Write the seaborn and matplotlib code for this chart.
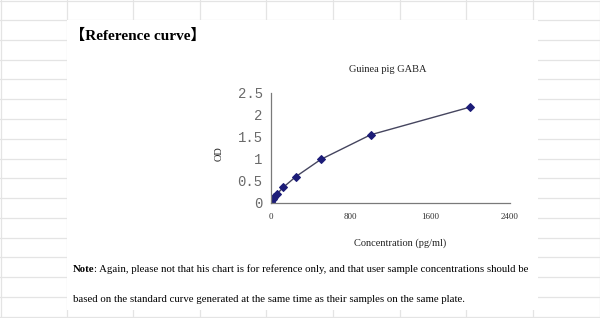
import matplotlib
matplotlib.use("Agg")
import matplotlib.pyplot as plt
from matplotlib.patches import Rectangle
import seaborn as sns
import pandas as pd

# ---- data ----
concentration = [0, 15.6, 31.25, 62.5, 125, 250, 500, 1000, 2000]
od_values = [0.02, 0.08, 0.14, 0.21, 0.36, 0.60, 0.99, 1.55, 2.18]
x_ticks = [0, 800, 1600, 2400]
x_tick_labels = ["0", "800", "1600", "2400"]
y_ticks = [0, 0.5, 1, 1.5, 2, 2.5]
y_tick_labels = ["0", "0.5", "1", "1.5", "2", "2.5"]
chart_title = "Guinea pig GABA"
x_label = "Concentration (pg/ml)"
y_label = "OD"
heading = "【Reference curve】"
note_bold = "Note"
note_line1 = ": Again, please not that his chart is for reference only, and that user sample concentrations should be"
note_line2 = "based on the standard curve generated at the same time as their samples on the same plate."

sns.set_theme(style="white")
plt.rcParams["font.family"] = ["Liberation Serif", "Noto Sans CJK SC", "DejaVu Sans"]

W, H = 600, 318
fig = plt.figure(figsize=(6, 3.18), dpi=100)
fig.patch.set_facecolor("white")

# ---- spreadsheet background ----
bg = fig.add_axes([0, 0, 1, 1])
bg.set_xlim(0, W)
bg.set_ylim(H, 0)
bg.axis("off")
grid_c = "#e4e4e4"
rows = [0.5] + [20 + 19.79 * k for k in range(16)]
cols = [0.5] + [66.6 * k for k in range(1, 9)] + [599.5]
for yy in rows:
    bg.plot([0, W], [yy, yy], color=grid_c, lw=0.9, zorder=1)
for xx in cols:
    bg.plot([xx, xx], [0, H], color=grid_c, lw=0.9, zorder=1)
bg.add_patch(Rectangle((67, 20), 538 - 67, 310 - 20, facecolor="white", edgecolor="none", zorder=2))

def px(x, y):
    return x / W, 1 - y / H

# ---- chart ----
left, right, top, bottom = 271, 510, 93, 203
ax = fig.add_axes([left / W, 1 - bottom / H, (right - left) / W, (bottom - top) / H])
ax.set_facecolor("none")
df = pd.DataFrame({"conc": concentration, "od": od_values})
sns.lineplot(data=df, x="conc", y="od", ax=ax, color="#45455f", lw=1.0,
             marker="D", markersize=4.2, markerfacecolor="#1c1c78",
             markeredgecolor="#1c1c78", estimator=None, sort=False)
ax.set_xlim(0, 2400)
ax.set_ylim(0, 2.5)
ax.set_xticks(x_ticks)
ax.set_xticklabels(x_tick_labels)
ax.set_yticks(y_ticks)
ax.set_yticklabels(y_tick_labels)
for s in ["top", "right"]:
    ax.spines[s].set_visible(False)
for s in ["left", "bottom"]:
    ax.spines[s].set_color("#7a7a7a")
    ax.spines[s].set_linewidth(0.9)
ax.tick_params(axis="both", direction="in", length=3, width=0.8, color="#7a7a7a")
ax.tick_params(axis="y", pad=6, labelsize=10, labelcolor="#6a6a6a")
ax.tick_params(axis="x", pad=7, labelsize=6.5, labelcolor="#333333")
for lab in ax.get_yticklabels():
    lab.set_family(["Liberation Mono"])
ax.set_title(chart_title, fontsize=7.5, color="#222222", x=0.49, y=1.0, pad=15)
ax.set_xlabel(x_label, fontsize=7.5, color="#222222")
ax.xaxis.set_label_coords(0.54, -0.32)
ax.set_ylabel(y_label, fontsize=7.5, color="#222222")
ax.yaxis.set_label_coords(-0.2, 0.45)
ax.grid(False)

# ---- texts ----
t_head = fig.text(*px(70, 36), heading, fontsize=12, fontweight="bold",
                  color="black", ha="left", va="center")

fig.canvas.draw()
r = fig.canvas.get_renderer()

def fit(t, target):
    w = t.get_window_extent(r).width
    t.set_fontsize(t.get_fontsize() * target / w)

fit(t_head, 135)

nb = fig.text(*px(73, 269), note_bold, fontsize=8, fontweight="bold", color="black",
              ha="left", va="center")
fig.canvas.draw()
nl = fig.text(0, 0, note_line1, fontsize=8, color="black", ha="left", va="center")
fig.canvas.draw()
total = nb.get_window_extent(r).width + nl.get_window_extent(r).width
scale = 454 / total
nb.set_fontsize(8 * scale)
nl.set_fontsize(8 * scale)
fig.canvas.draw()
bw = nb.get_window_extent(r).width
nl.set_position(px(73 + bw, 269))
n2 = fig.text(*px(73, 299), note_line2, fontsize=8 * scale, color="black", ha="left", va="center")

fig.savefig("out.png", dpi=100, facecolor="white")
